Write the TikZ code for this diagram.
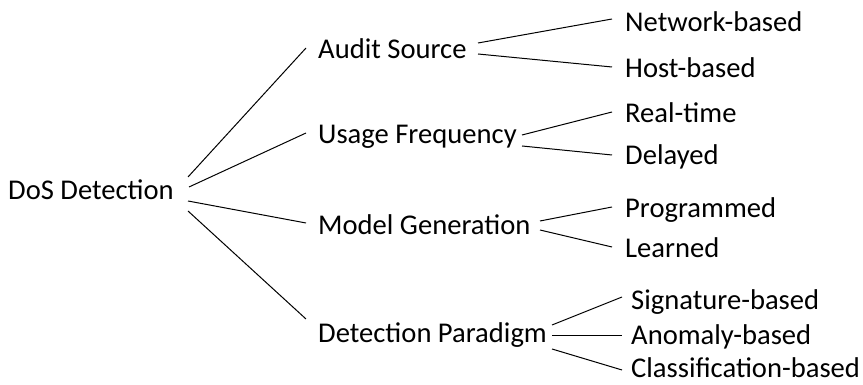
\documentclass[tikz,border=0pt]{standalone}
\usepackage{fontspec}
\setmainfont{Carlito}
\begin{document}
\begin{tikzpicture}[x=1pt,y=1pt,
  lbl/.style={inner sep=0pt, anchor=base west, font=\fontsize{28.6}{34}\selectfont},
  edge/.style={line width=1pt}]
\useasboundingbox (0,0) rectangle (863,385);
\node[lbl] (root) at (8,185) {DoS Detection};
\node[lbl] (aud) at (318,326) {Audit Source};
\node[lbl] (use) at (318,241) {Usage Frequency};
\node[lbl] (mod) at (318,150) {Model Generation};
\node[lbl] (det) at (318,42) {Detection Paradigm};
\node[lbl] (net) at (625,353) {Network-based};
\node[lbl] (host) at (625,307) {Host-based};
\node[lbl] (real) at (625,262) {Real-time};
\node[lbl] (del) at (625,220) {Delayed};
\node[lbl] (prog) at (625,167) {Programmed};
\node[lbl] (learn) at (625,127) {Learned};
\node[lbl] (sig) at (631,75) {Signature-based};
\node[lbl] (ano) at (631,40) {Anomaly-based};
\node[lbl] (cls) at (631,7.5) {Classification-based};
% root to categories
\draw[edge] ([shift={(180,23)}]root.base west) -- ([shift={(-12,11)}]aud.base west);
\draw[edge] ([shift={(181,13)}]root.base west) -- ([shift={(-12,11)}]use.base west);
\draw[edge] ([shift={(180,-1)}]root.base west) -- ([shift={(-12,12)}]mod.base west);
\draw[edge] ([shift={(180,-11)}]root.base west) -- ([shift={(-12,24)}]det.base west);
% categories to leaves
\draw[edge] ([shift={(160,16)}]aud.base west) -- ([shift={(-13,13)}]net.base west);
\draw[edge] ([shift={(160,5)}]aud.base west) -- ([shift={(-13,11)}]host.base west);
\draw[edge] ([shift={(204,9)}]use.base west) -- ([shift={(-13,11)}]real.base west);
\draw[edge] ([shift={(204,-2)}]use.base west) -- ([shift={(-13,10)}]del.base west);
\draw[edge] ([shift={(222,14)}]mod.base west) -- ([shift={(-13,11)}]prog.base west);
\draw[edge] ([shift={(222,5)}]mod.base west) -- ([shift={(-13,11)}]learn.base west);
\draw[edge] ([shift={(234,18)}]det.base west) -- ([shift={(-9,13)}]sig.base west);
\draw[edge] ([shift={(234,7)}]det.base west) -- ([shift={(-9,9)}]ano.base west);
\draw[edge] ([shift={(234,-6)}]det.base west) -- ([shift={(-9,7.5)}]cls.base west);
\end{tikzpicture}
\end{document}
